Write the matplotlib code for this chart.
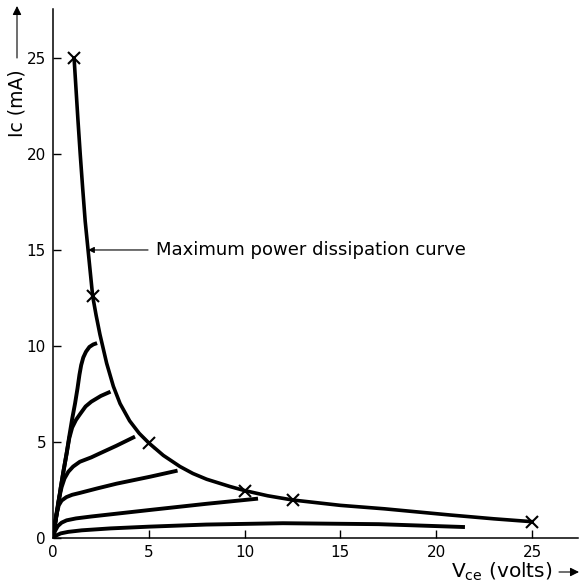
import matplotlib
matplotlib.use('Agg')
import matplotlib.pyplot as plt

# Maximum power dissipation curve
pmax_v = [1.1, 1.2, 1.3, 1.42, 1.55, 1.68, 1.83, 1.95, 2.07, 2.25, 2.45, 2.8, 3.15, 3.5, 4.0, 4.5, 5.0,
          5.76, 6.63, 7.3, 8.02, 9.24, 10.0, 11.2, 12.5, 15.0, 17.3, 20.7, 23.0, 25.0]
pmax_i = [25.0, 23.4, 21.8, 20.0, 18.2, 16.5, 15.0, 13.8, 12.6, 11.6, 10.6, 9.1, 7.9, 7.0, 6.1, 5.45, 4.95,
          4.3, 3.72, 3.36, 3.06, 2.68, 2.47, 2.2, 1.98, 1.7, 1.52, 1.2, 1.0, 0.85]

# crosses marked on the curve
mark_v = [1.1, 2.07, 5.0, 10.0, 12.5, 25.0]
mark_i = [25.0, 12.6, 4.95, 2.47, 1.98, 0.85]

# output characteristics, lowest to highest
c1_v = [0, 0.15, 0.4, 0.8, 1.5, 3.0, 5.0, 8.0, 12.0, 17.0, 21.5]
c1_i = [0, 0.12, 0.24, 0.32, 0.4, 0.5, 0.59, 0.7, 0.77, 0.72, 0.57]
c2_v = [0, 0.1, 0.25, 0.45, 0.71, 1.2, 2.0, 5.06, 8.0, 10.7]
c2_i = [0, 0.35, 0.62, 0.8, 0.92, 1.02, 1.12, 1.46, 1.78, 2.05]
c3_v = [0, 0.1, 0.2, 0.3, 0.45, 0.7, 1.0, 1.41, 2.3, 3.32, 5.06, 6.5]
c3_i = [0, 0.7, 1.3, 1.7, 1.95, 2.13, 2.25, 2.35, 2.58, 2.83, 3.19, 3.51]
c4_v = [0, 0.15, 0.3, 0.45, 0.6, 0.8, 1.05, 1.4, 2.0, 2.45, 3.3, 4.28]
c4_i = [0, 1.1, 2.0, 2.65, 3.1, 3.45, 3.72, 3.97, 4.2, 4.41, 4.8, 5.28]
c5_v = [0, 0.12, 0.25, 0.4, 0.55, 0.71, 0.85, 1.0, 1.2, 1.41, 1.7, 2.0, 2.5, 3.0]
c5_i = [0, 0.8, 1.6, 2.6, 3.5, 4.4, 5.2, 5.75, 6.15, 6.45, 6.85, 7.1, 7.4, 7.62]
c6_v = [0, 0.12, 0.25, 0.4, 0.55, 0.71, 0.85, 1.0, 1.15, 1.28, 1.38, 1.47, 1.58, 1.72, 1.9, 2.1, 2.3]
c6_i = [0, 0.8, 1.6, 2.6, 3.5, 4.4, 5.3, 6.2, 7.0, 7.8, 8.5, 9.0, 9.4, 9.7, 9.95, 10.08, 10.15]

curves = [(c1_v, c1_i), (c2_v, c2_i), (c3_v, c3_i), (c4_v, c4_i), (c5_v, c5_i), (c6_v, c6_i)]

ticks = [0, 5, 10, 15, 20, 25]

fig = plt.figure(figsize=(5.79, 5.83), dpi=100)
ax = fig.add_axes([53/579, 45/583, 525/579, 529/583])

ax.plot(pmax_v, pmax_i, color='black', lw=2.6, solid_joinstyle='round')
ax.plot(mark_v, mark_i, 'x', color='black', ms=8, mew=1.5)
for v, i in curves:
    ax.plot(v, i, color='black', lw=2.8, solid_joinstyle='round', solid_capstyle='butt')

ax.annotate('', xy=(1.83, 15), xytext=(4.96, 15),
            arrowprops=dict(arrowstyle='-|>', lw=0.8, color='black', mutation_scale=9,
                            shrinkA=0, shrinkB=0))
ax.text(5.4, 15, 'Maximum power dissipation curve', va='center', fontsize=13)

ax.set_xlim(0, 27.4)
ax.set_ylim(0, 27.55)
ax.set_xticks(ticks)
ax.set_yticks(ticks)
ax.tick_params(direction='in', length=6, width=1, labelsize=11, pad=5)
ax.spines['top'].set_visible(False)
ax.spines['right'].set_visible(False)
ax.spines['left'].set_linewidth(1.1)
ax.spines['bottom'].set_linewidth(1.1)

# axis labels with arrows
fig.text(17/579, 1 - 103/583, 'Ic (mA)', rotation=90, ha='center', va='center', fontsize=13.5)
ax.annotate('', xy=(17/579, 1 - 6/583), xytext=(17/579, 1 - 58/583),
            xycoords='figure fraction', textcoords='figure fraction',
            arrowprops=dict(arrowstyle='-|>', lw=0.8, color='black', mutation_scale=13,
                            shrinkA=0, shrinkB=0))
fig.text(502/579, 1 - 572/583, r'V$_{\rm ce}$ (volts)', ha='center', va='center', fontsize=14.5)
ax.annotate('', xy=(579/579, 1 - 572/583), xytext=(559/579, 1 - 572/583),
            xycoords='figure fraction', textcoords='figure fraction',
            arrowprops=dict(arrowstyle='-|>', lw=0.8, color='black', mutation_scale=13,
                            shrinkA=0, shrinkB=0))

fig.savefig('out.png', dpi=100)
